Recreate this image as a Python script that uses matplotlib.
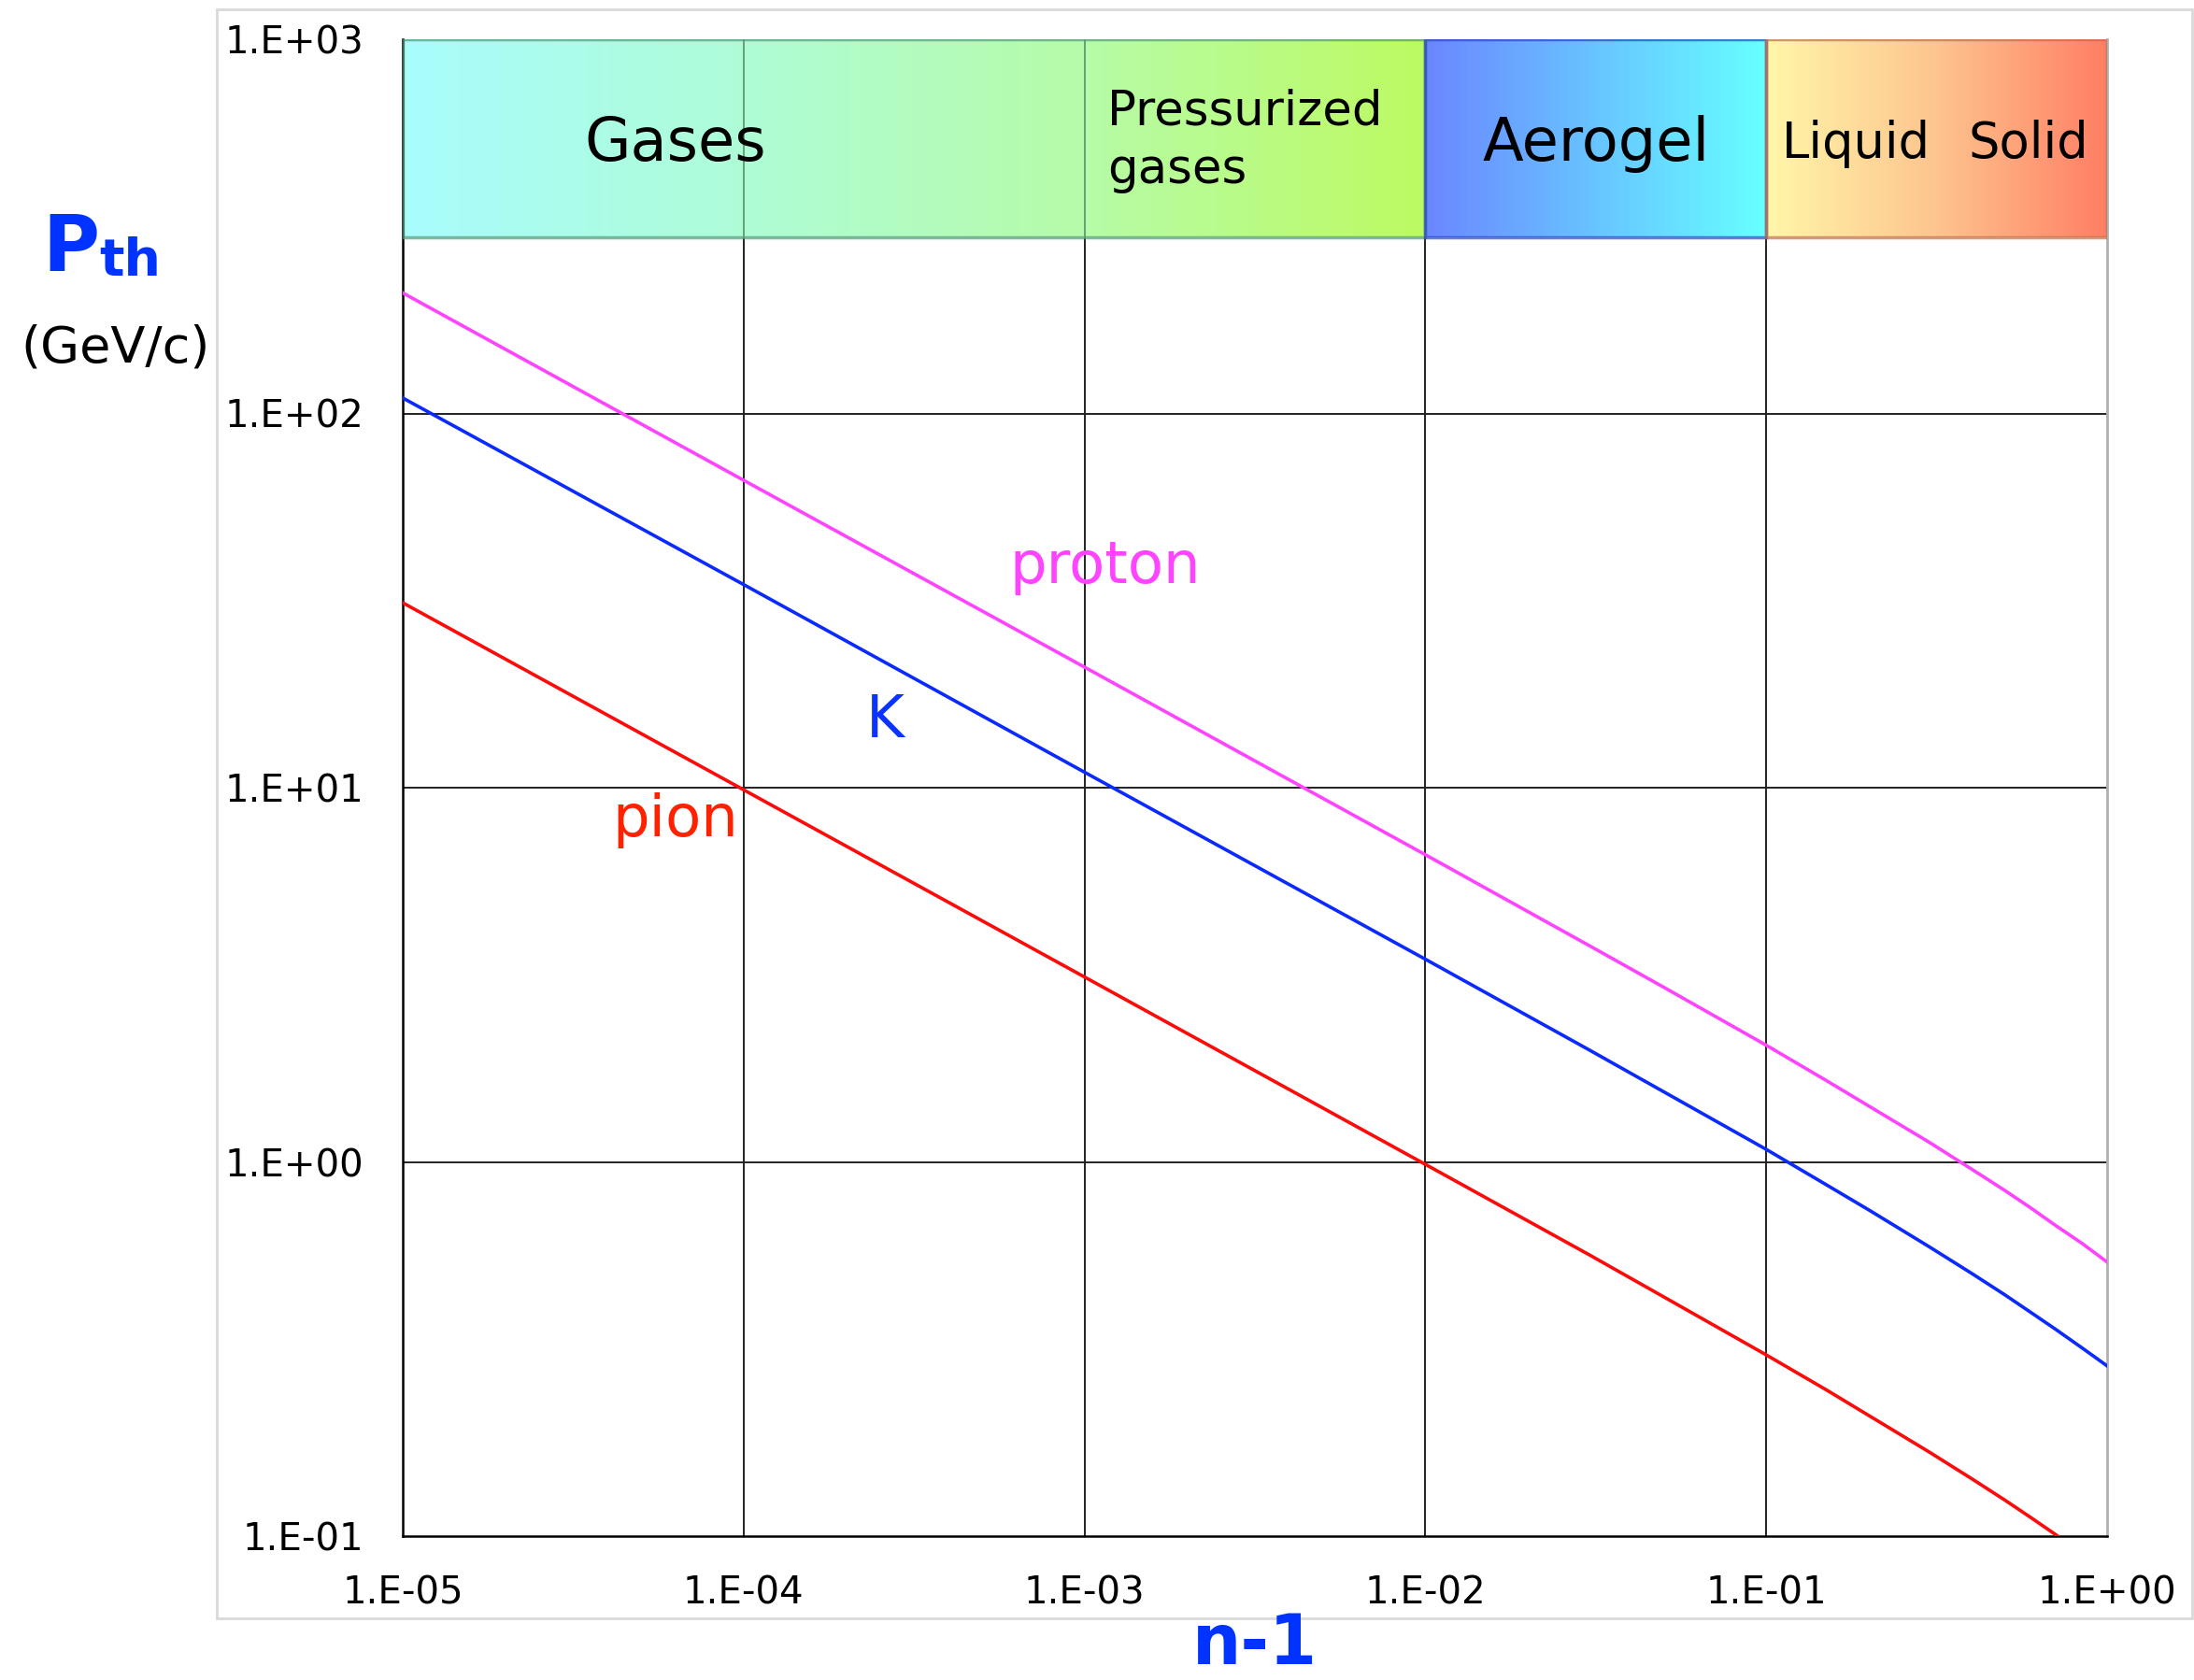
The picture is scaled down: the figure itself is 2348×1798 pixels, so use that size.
import numpy as np
import matplotlib
matplotlib.use('Agg')
from matplotlib import pyplot as plt
from matplotlib.colors import LinearSegmentedColormap
from matplotlib.patches import Rectangle

# Datos: n-1 y momento umbral (GeV/c)
n_menos_1 = [1e-5, 1e-4, 1e-3, 1e-2, 3e-2, 5e-2, 1e-1, 1.5e-1, 2e-1, 3e-1, 4e-1,
             5e-1, 6e-1, 7e-1, 8.5e-1, 1.0]
p_pion = [31.2, 9.87, 3.12, 0.985, 0.567, 0.436, 0.305, 0.246, 0.21, 0.168, 0.1425,
          0.125, 0.1118, 0.1015, 0.0897, 0.0806]
p_kaon = [110.0, 34.9, 11.0, 3.48, 2.0, 1.54, 1.08, 0.869, 0.744, 0.594, 0.504,
          0.442, 0.395, 0.359, 0.317, 0.285]
p_proton = [210.0, 66.3, 21.0, 6.62, 3.80, 2.93, 2.05, 1.65, 1.41, 1.13, 0.957,
            0.84, 0.751, 0.68, 0.603, 0.54]

x_ticks = [1e-5, 1e-4, 1e-3, 1e-2, 1e-1, 1.0]
x_ticklabels = ['1.E-05', '1.E-04', '1.E-03', '1.E-02', '1.E-01', '1.E+00']
y_ticks = [0.1, 1.0, 10.0, 100.0, 1000.0]
y_ticklabels = ['1.E-01', '1.E+00', '1.E+01', '1.E+02', '1.E+03']

# Bandas de radiadores: (inicio, fin, colores del degradado, borde)
bandas = [
    (1e-5, 1e-2, ['#a8fcfc', '#aefcd6', '#b6fba8', '#bcfa62'], '#4f9a78'),
    (1e-2, 1e-1, ['#6a86ff', '#67c4ff', '#66ffff'], '#2a48c0'),
    (1e-1, 1.0, ['#fff6a8', '#fdc48e', '#ff7e64'], '#c0704a'),
]
banda_ymin, banda_ymax = 295, 1000

fig = plt.figure(figsize=(23.48, 17.98), dpi=100)
ax = fig.add_axes([431/2348, 1 - 1644/1798, (2255 - 431)/2348, (1644 - 42)/1798])
ax.set_xscale('log')
ax.set_yscale('log')
ax.set_xlim(1e-5, 1.0)
ax.set_ylim(0.1, 1000)

# Rejilla
for xv in x_ticks[1:-1]:
    ax.axvline(xv, color='#222222', lw=1.4, zorder=1)
for yv in y_ticks[1:-1]:
    ax.axhline(yv, color='#222222', lw=1.4, zorder=1)

# Bandas con degradado
for x0, x1, cols, borde in bandas:
    cmap = LinearSegmentedColormap.from_list('b', cols)
    xe = np.logspace(np.log10(x0), np.log10(x1), 200)
    C = np.linspace(0, 1, 199).reshape(1, -1)
    ax.pcolormesh(xe, [banda_ymin, banda_ymax], C, cmap=cmap, shading='flat', zorder=2)
    ax.add_patch(Rectangle((x0, banda_ymin), x1 - x0, banda_ymax - banda_ymin,
                           fill=False, edgecolor=borde, lw=2.5, alpha=0.7, zorder=3))
for xv in [1e-4, 1e-3]:
    ax.plot([xv, xv], [banda_ymin, banda_ymax], color='#5f9a72', lw=1.3, zorder=3)

# Curvas
ax.plot(n_menos_1, p_pion, color='#ff0a0a', lw=2.6, zorder=4)
ax.plot(n_menos_1, p_kaon, color='#0a2aff', lw=2.6, zorder=4)
ax.plot(n_menos_1, p_proton, color='#ff44ff', lw=2.6, zorder=4)

ax.text(1.15e-3, 38.9, 'proton', color='#ff44ff', fontsize=45, ha='center', va='center', zorder=5)
ax.text(2.61e-4, 15.0, 'K', color='#0a33ff', fontsize=45, ha='center', va='center', zorder=5)
ax.text(6.3e-5, 8.2, 'pion', color='#ff2200', fontsize=45, ha='center', va='center', zorder=5)

# Textos de las bandas
ax.text(6.3e-5, 525, 'Gases', fontsize=46, ha='center', va='center', zorder=5)
ax.text(1.17e-3, 535, 'Pressurized\ngases', fontsize=37, ha='left', va='center',
        linespacing=1.3, zorder=5)
ax.text(0.0316, 525, 'Aerogel', fontsize=46, ha='center', va='center', zorder=5)
ax.text(0.184, 525, 'Liquid', fontsize=38, ha='center', va='center', zorder=5)
ax.text(0.589, 525, 'Solid', fontsize=38, ha='center', va='center', zorder=5)

# Ejes
ax.set_xticks(x_ticks)
ax.set_xticklabels(x_ticklabels)
ax.set_yticks(y_ticks)
ax.set_yticklabels(y_ticklabels)
ax.minorticks_off()
ax.tick_params(length=0, labelsize=29, pad=30)
ax.tick_params(axis='x', pad=30)
ax.spines['top'].set_visible(False)
ax.spines['left'].set_linewidth(1.8)
ax.spines['bottom'].set_linewidth(1.8)
ax.spines['right'].set_color('#b0b0b0')
ax.spines['right'].set_linewidth(2.0)

# Titulos de los ejes
fig.text(45/2348, 1 - 290/1798, 'P', color='#0033ff', fontsize=60, fontweight='bold',
         ha='left', va='baseline')
fig.text(106/2348, 1 - 295/1798, 'th', color='#0033ff', fontsize=40, fontweight='bold',
         ha='left', va='baseline')
fig.text(124/2348, 1 - 387/1798, '(GeV/c)', fontsize=39, ha='center', va='baseline')
fig.text(1343/2348, 1/1798, 'n-1', color='#0033ff', fontsize=53, fontweight='bold',
         ha='center', va='bottom')

# Marco gris
fig.patches.append(Rectangle((232/2348, 1 - 1732/1798), (2346 - 232)/2348, (1732 - 10)/1798,
                             transform=fig.transFigure, fill=False, edgecolor='#d9d9d9', lw=2))

fig.savefig('out.png', dpi=100)
